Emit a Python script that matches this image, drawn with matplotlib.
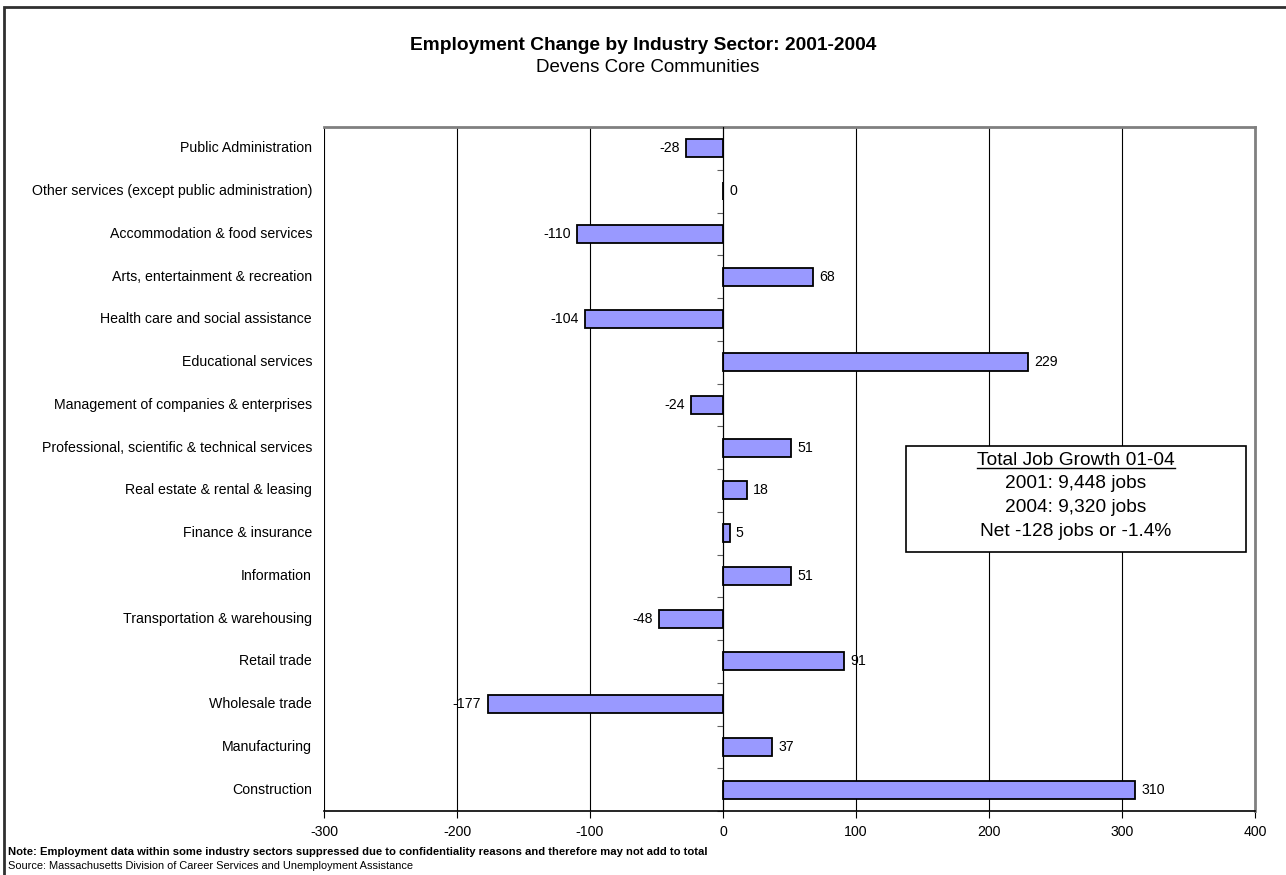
#!/usr/bin/env python3
"""Employment change by industry sector, Devens core communities 2001-2004."""

import matplotlib
matplotlib.use("Agg")
import matplotlib.pyplot as plt
from matplotlib.patches import Rectangle
from matplotlib.lines import Line2D
import numpy as np

plt.rcParams["font.family"] = ["Liberation Sans", "DejaVu Sans"]
plt.rcParams["axes.unicode_minus"] = False

sectors = [
    "Public Administration",
    "Other services (except public administration)",
    "Accommodation & food services",
    "Arts, entertainment & recreation",
    "Health care and social assistance",
    "Educational services",
    "Management of companies & enterprises",
    "Professional, scientific & technical services",
    "Real estate & rental & leasing",
    "Finance & insurance",
    "Information",
    "Transportation & warehousing",
    "Retail trade",
    "Wholesale trade",
    "Manufacturing",
    "Construction",
]
change = [-28, 0, -110, 68, -104, 229, -24, 51, 18, 5, 51, -48, 91, -177, 37, 310]
xticks = [-300, -200, -100, 0, 100, 200, 300, 400]
box_lines = ["Total Job Growth 01-04", "2001: 9,448 jobs", "2004: 9,320 jobs",
             "Net -128 jobs or -1.4%"]


def main():
    W, H = 1286, 875
    fs = 10.2
    fig = plt.figure(figsize=(W / 100, H / 100), dpi=100)
    ax = fig.add_axes([324 / W, 1 - 811 / H, (1255 - 324) / W, (811 - 127) / H])

    n = len(sectors)
    y = np.arange(n)
    ax.barh(y, change, height=0.42, color="#9999FF", edgecolor="black",
            linewidth=1.3, zorder=3)
    ax.set_xlim(-300, 400)
    ax.set_ylim(n - 0.5, -0.5)

    # value labels
    for yi, v in zip(y, change):
        if v >= 0:
            ax.annotate(str(v), (v, yi), xytext=(4.5, 0), textcoords="offset points",
                        ha="left", va="center", fontsize=fs)
        else:
            ax.annotate(str(v), (v, yi), xytext=(-4.5, 0), textcoords="offset points",
                        ha="right", va="center", fontsize=fs)

    # category labels on the left of the plot area
    trans = ax.get_yaxis_transform()
    for yi, name in zip(y, sectors):
        ax.text(-12 / 931, yi, name, transform=trans, ha="right", va="center",
                fontsize=fs)

    # y axis sits on zero, ticks between categories
    ax.spines["left"].set_position(("data", 0))
    ax.spines["left"].set_color("black")
    ax.spines["left"].set_zorder(4)
    ax.set_yticks(np.arange(n + 1) - 0.5)
    ax.set_yticklabels([])
    ax.tick_params(axis="y", direction="out", length=4, color="#606060")

    ax.set_xticks(xticks)
    ax.tick_params(axis="x", direction="out", length=5, labelsize=fs, pad=5)
    ax.spines["bottom"].set_linewidth(1.2)
    for s in ("top", "right"):
        ax.spines[s].set_color("#808080")
        ax.spines[s].set_linewidth(2)
    ax.grid(axis="x", color="black", linewidth=0.8, zorder=0)
    ax.set_axisbelow(True)

    # titles
    fig.text(643 / W, 1 - 45 / H, "Employment Change by Industry Sector: 2001-2004",
             ha="center", va="center", fontsize=13.8, fontweight="bold")
    fig.text(648 / W, 1 - 67 / H, "Devens Core Communities", ha="center",
             va="center", fontsize=13.5)

    # notes
    fig.text(8 / W, 1 - 852 / H,
             "Note: Employment data within some industry sectors suppressed due to "
             "confidentiality reasons and therefore may not add to total",
             ha="left", va="center", fontsize=8.1, fontweight="bold")
    fig.text(8 / W, 1 - 866 / H,
             "Source: Massachusetts Division of Career Services and Unemployment Assistance",
             ha="left", va="center", fontsize=7.9)

    # summary box
    fig.patches.append(Rectangle((906 / W, 1 - 552 / H), (1246 - 906) / W, 106 / H,
                                 transform=fig.transFigure, facecolor="white",
                                 edgecolor="black", linewidth=1.2, zorder=5))
    line_y = [461, 484, 507, 531]
    texts = []
    for ly, s in zip(line_y, box_lines):
        texts.append(fig.text(1076 / W, 1 - ly / H, s, ha="center", va="center",
                              fontsize=13.8, zorder=6))
    fig.canvas.draw()
    bb = texts[0].get_window_extent()
    fig.lines.append(Line2D([bb.x0 / W, bb.x1 / W], [(bb.y0 + 1) / H] * 2,
                            transform=fig.transFigure, color="black",
                            linewidth=1, zorder=6))

    # outer chart frame
    fig.patches.append(Rectangle((4 / W, -0.05), 1.1, 1 - 7 / H + 0.05,
                                 transform=fig.transFigure, facecolor="none",
                                 edgecolor="#303030", linewidth=2, zorder=0))

    fig.savefig("out.png", dpi=100)


if __name__ == "__main__":
    main()
